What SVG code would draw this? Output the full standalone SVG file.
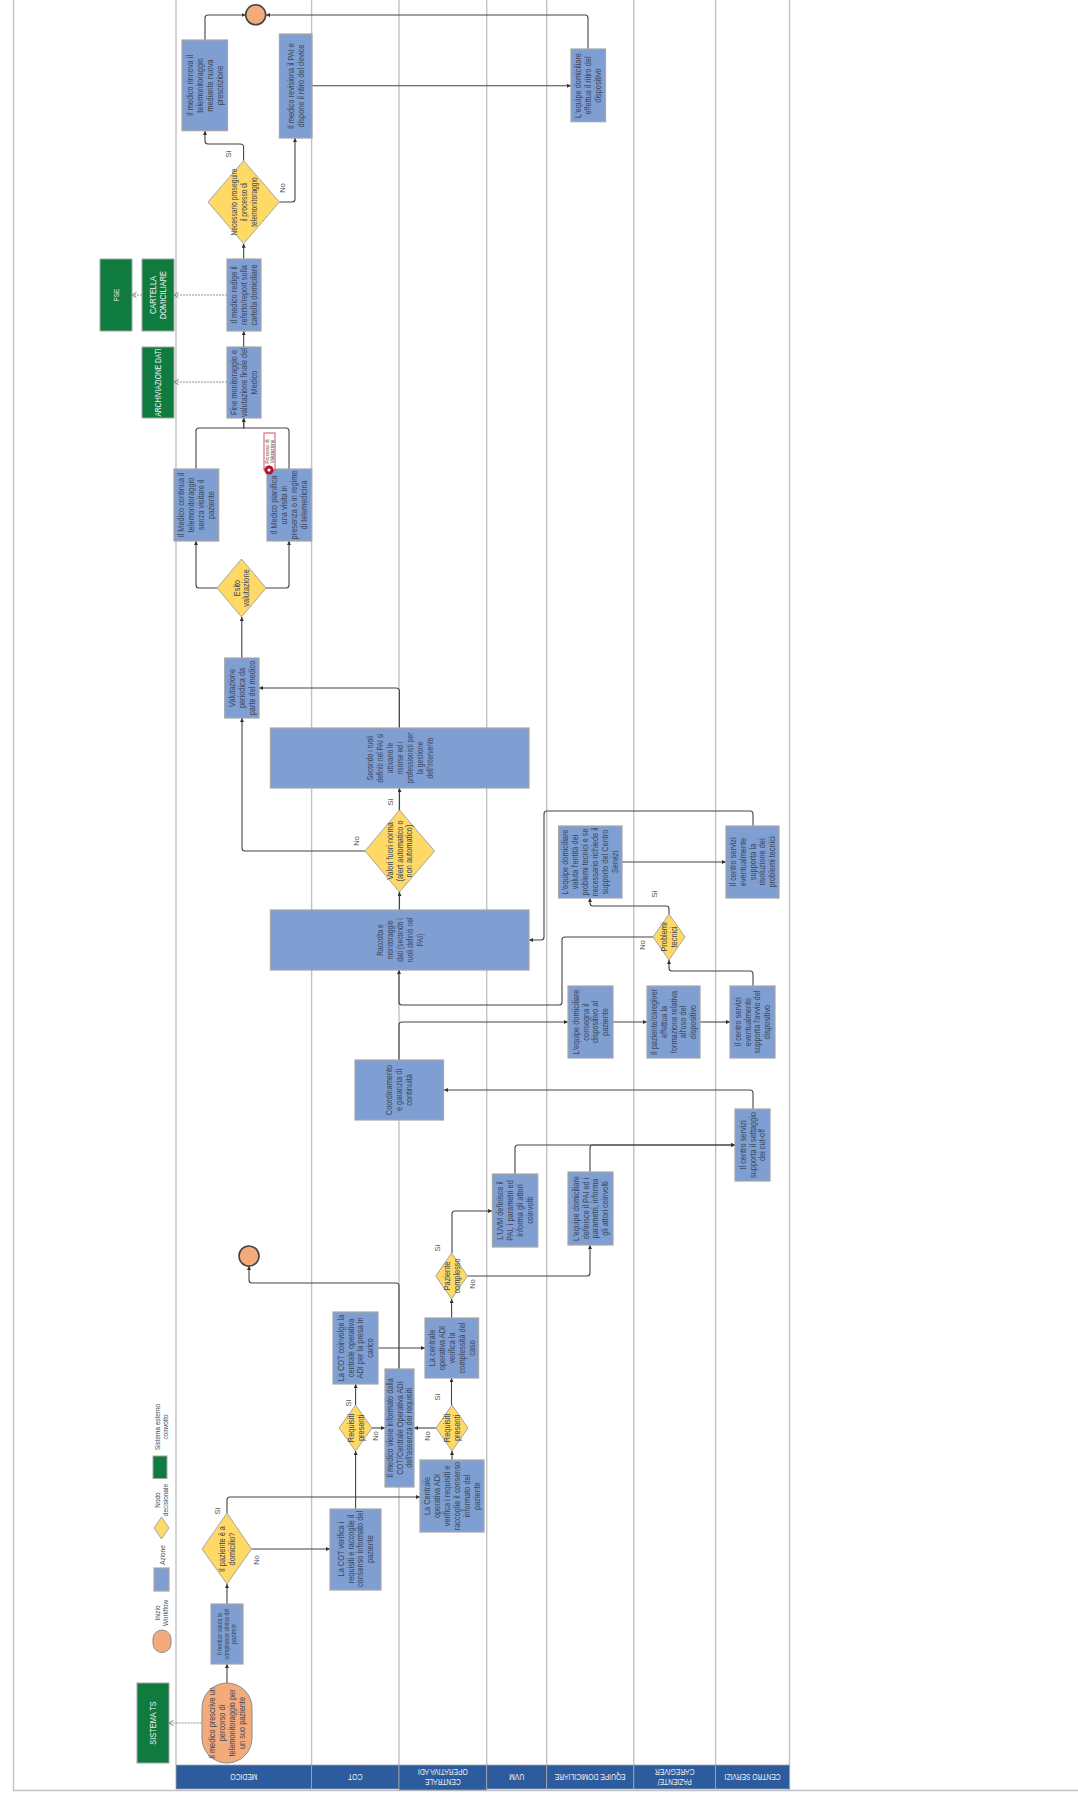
<svg xmlns="http://www.w3.org/2000/svg" width="1078" height="1798" viewBox="0 0 1078 1798">
<style>
text{font-family:"Liberation Sans",Arial,sans-serif;text-anchor:middle}
.t{font-size:9px;fill:#3a4658}
.s{font-size:6.4px;fill:#3a4658}
.m{font-size:8.2px;fill:#3a4658}
.w{font-size:9px;fill:#f2f2f2}
.h{font-size:8.4px;fill:#f2f2f2}
.l{font-size:7.6px;fill:#555}
.a{fill:#7f9fd3;stroke:#a6a6a6;stroke-width:1.2}
.d{fill:#ffd966;stroke:#a6a6a6;stroke-width:1}
.g{fill:#0f7b3e;stroke:#a6a6a6;stroke-width:1}
.o{fill:#f4ab7c;stroke:#8c8c8c;stroke-width:1}
.e{fill:#f4ab7c;stroke:#444;stroke-width:1.6}
.hd{fill:#2c5c9e;stroke:#a6a6a6;stroke-width:.8}
.ln{stroke:#c2c2c8;stroke-width:1.4;fill:none}
.c{fill:none;stroke:#444;stroke-width:1.1;marker-end:url(#ar)}
.x{fill:none;stroke:#666;stroke-width:.7;stroke-dasharray:2 1;marker-end:url(#op)}
</style>
<defs>
<marker id="ar" markerUnits="userSpaceOnUse" markerWidth="5" markerHeight="5" refX="4" refY="2" orient="auto"><path d="M0 0L4 2L0 4z" fill="#333"/></marker>
<marker id="op" markerUnits="userSpaceOnUse" markerWidth="7" markerHeight="7" refX="5" refY="3" orient="auto"><path d="M.5 .3L5 3L.5 5.7" fill="none" stroke="#666" stroke-width=".8"/></marker>
</defs>
<rect width="1078" height="1798" fill="#fff"/>
<g id="frame">
<path class="ln" d="M13.5 0V1790.5H1078"/>
<path class="ln" d="M176 0V1765M311.6 0V1765M399 0V1765M486.7 0V1765M546.7 0V1765M633.8 0V1765M715.6 0V1765M789.5 0V1790"/>
</g>
<g id="headers">
<rect class="hd" x="176" y="1765" width="135.6" height="24"/><text class="h" transform="translate(243.8 1777) rotate(180) scale(.8 1)" y="3">MEDICO</text>
<rect class="hd" x="311.6" y="1765" width="87.4" height="24"/><text class="h" transform="translate(355.3 1777) rotate(180) scale(.8 1)" y="3">COT</text>
<rect class="hd" x="399" y="1765" width="87.7" height="25"/><text class="h" transform="translate(442.8 1777) rotate(180) scale(.8 1)"><tspan x="0" y="-2">CENTRALE</tspan><tspan x="0" y="8">OPERATIVA ADI</tspan></text>
<rect class="hd" x="486.7" y="1765" width="60" height="24"/><text class="h" transform="translate(516.7 1777) rotate(180) scale(.8 1)" y="3">UVM</text>
<rect class="hd" x="546.7" y="1765" width="87.1" height="24"/><text class="h" transform="translate(590.2 1777) rotate(180) scale(.8 1)" y="3">EQUIPE DOMICILIARE</text>
<rect class="hd" x="633.8" y="1765" width="81.8" height="24"/><text class="h" transform="translate(674.7 1777) rotate(180) scale(.8 1)"><tspan x="0" y="-2">PAZIENTE/</tspan><tspan x="0" y="8">CAREGIVER</tspan></text>
<rect class="hd" x="715.6" y="1765" width="73.9" height="24"/><text class="h" transform="translate(752.5 1777) rotate(180) scale(.8 1)" y="3">CENTRO SERVIZI</text>
</g>
<g id="connectors">
<path class="c" d="M227 1683V1664"/>
<path class="c" d="M227 1604V1584"/>
<path class="c" d="M227 1513V1500Q227 1497 230 1497H420"/>
<path class="c" d="M251.5 1549H330"/>
<path class="c" d="M355.6 1509V1451"/>
<path class="c" d="M355.6 1405V1384"/>
<path class="c" d="M372 1428H385"/>
<path class="c" d="M436 1428H414"/>
<path class="c" d="M452 1460V1451"/>
<path class="c" d="M451.5 1405V1378"/>
<path class="c" d="M378 1348H425"/>
<path class="c" d="M399 1369V1286Q399 1283 396 1283H252Q249 1283 249 1280V1266"/>
<path class="c" d="M451.6 1318V1299"/>
<path class="c" d="M452 1253V1214Q452 1211 455 1211H492"/>
<path class="c" d="M467.5 1276H587Q590 1276 590 1273V1245"/>
<path class="c" d="M515 1174V1148Q515 1145 518 1145H735"/>
<path class="c" d="M590 1172V1148Q590 1145 593 1145H735"/>
<path class="c" d="M753 1109V1093Q753 1090 750 1090H444"/>
<path class="c" d="M399 1060V1025Q399 1022 402 1022H568"/>
<path class="c" d="M613 1022H647"/>
<path class="c" d="M700 1022H730"/>
<path class="c" d="M753 986V974Q753 971 750 971H672Q669 971 669 968V960"/>
<path class="c" d="M653 937H565Q562 937 562 940V1002Q562 1005 559 1005H402Q399 1005 399 1002V970"/>
<path class="c" d="M399.5 910V892"/>
<path class="c" d="M399.5 810V788"/>
<path class="c" d="M365 851H245Q242 851 242 848V718"/>
<path class="c" d="M399.4 728V691Q399.4 688 396 688H259"/>
<path class="c" d="M241.8 658V617"/>
<path class="c" d="M622 862H726"/>
<path class="c" d="M753 826V814Q753 811 750 811H547Q544 811 544 814V937Q544 940 541 940H529"/>
<path class="c" d="M669 914V909Q669 906 666 906H593Q590 906 590 903V898"/>
<path class="c" d="M217 588H199Q196 588 196 585V541"/>
<path class="c" d="M266 588H286Q289 588 289 585V541"/>
<path class="c" d="M196 469V431Q196 428 199 428H243.7V418"/>
<path class="c" d="M289 469V431Q289 428 286 428H243.7V418"/>
<path class="c" d="M243.7 347V331"/>
<path class="c" d="M243.7 259V243.7"/>
<path class="c" d="M243.6 160.7V147Q243.6 144 240 144H208Q205 144 205 141V131"/>
<path class="c" d="M279.4 202H292Q295 202 295 199V138"/>
<path class="c" d="M205 40V18Q205 15 208 15H245.5"/>
<path class="c" d="M312 85.7H571"/>
<path class="c" d="M588 49V18Q588 15 585 15H266"/>
<path class="x" d="M201.5 1723H169"/>
<path class="x" d="M227 295H174"/>
<path class="x" d="M142 295H132"/>
<path class="x" d="M227 382H174"/>
</g>
<g id="labels">
<text class="l" transform="translate(217 1511) rotate(-90)" y="3">Si</text>
<text class="l" transform="translate(256 1560) rotate(-90)" y="3">No</text>
<text class="l" transform="translate(347.5 1403) rotate(-90)" y="3">Si</text>
<text class="l" transform="translate(375 1436) rotate(-90)" y="3">No</text>
<text class="l" transform="translate(437 1397) rotate(-90)" y="3">Si</text>
<text class="l" transform="translate(427 1436) rotate(-90)" y="3">No</text>
<text class="l" transform="translate(436.5 1248) rotate(-90)" y="3">Si</text>
<text class="l" transform="translate(472 1284) rotate(-90)" y="3">No</text>
<text class="l" transform="translate(355.7 841) rotate(-90)" y="3">No</text>
<text class="l" transform="translate(390 802) rotate(-90)" y="3">Si</text>
<text class="l" transform="translate(654 894) rotate(-90)" y="3">Si</text>
<text class="l" transform="translate(642 945) rotate(-90)" y="3">No</text>
<text class="l" transform="translate(228.4 154) rotate(-90)" y="3">Si</text>
<text class="l" transform="translate(282 188) rotate(-90)" y="3">No</text>
</g>
<g id="n-sistema-ts"><rect class="g" x="137" y="1683" width="32" height="80"/><text class="w" transform="translate(153 1723) rotate(-90) scale(.82 1)" y="3">SISTEMA TS</text></g>
<g id="n-start"><rect class="o" x="202" y="1683" width="50" height="80" rx="25"/><text class="t" transform="translate(227 1723) rotate(-90) scale(.82 1)"><tspan x="0" y="-12">Il medico prescrive un</tspan><tspan x="0" y="-2">percorso di</tspan><tspan x="0" y="8">telemonitoraggio per</tspan><tspan x="0" y="18">un suo paziente</tspan></text></g>
<g id="n-compliance"><rect class="a" x="211" y="1604" width="32" height="60"/><text class="s" transform="translate(227 1634) rotate(-90) scale(.82 1)"><tspan x="0" y="-5.5">Il medico valuta la</tspan><tspan x="0" y="2">compliance clinica del</tspan><tspan x="0" y="9.5">paziente</tspan></text></g>
<g id="n-domicilio"><path class="d" d="M227 1513L251.5 1549L227 1584L202 1549Z"/><text class="t" transform="translate(227 1549) rotate(-90) scale(.82 1)"><tspan x="0" y="-2">Il paziente è a</tspan><tspan x="0" y="8">domicilio?</tspan></text></g>
<g id="n-cot-verifica"><rect class="a" x="330" y="1509" width="51" height="81"/><text class="t" transform="translate(355.5 1549) rotate(-90) scale(.82 1)"><tspan x="0" y="-12">La COT verifica i</tspan><tspan x="0" y="-2">requisiti e raccoglie il</tspan><tspan x="0" y="8">consenso informato del</tspan><tspan x="0" y="18">paziente</tspan></text></g>
<g id="n-centrale-verifica"><rect class="a" x="420" y="1460" width="64" height="72"/><text class="t" transform="translate(452 1496) rotate(-90) scale(.82 1)"><tspan x="0" y="-22">La Centrale</tspan><tspan x="0" y="-12">operativa ADI</tspan><tspan x="0" y="-2">verifica i requisiti e</tspan><tspan x="0" y="8">raccoglie il consenso</tspan><tspan x="0" y="18">informato del</tspan><tspan x="0" y="28">paziente</tspan></text></g>
<g id="n-req-cot"><path class="d" d="M355.6 1405L372 1428L355.6 1451L339 1428Z"/><text class="t" transform="translate(355.6 1428) rotate(-90) scale(.82 1)"><tspan x="0" y="-2">Requisiti</tspan><tspan x="0" y="8">presenti</tspan></text></g>
<g id="n-req-adi"><path class="d" d="M452 1405L468 1428L452 1451L436 1428Z"/><text class="t" transform="translate(452 1428) rotate(-90) scale(.82 1)"><tspan x="0" y="-2">Requisiti</tspan><tspan x="0" y="8">presenti</tspan></text></g>
<g id="n-informato"><rect class="a" x="385" y="1369" width="29" height="118"/><text class="t" transform="translate(399.5 1428) rotate(-90) scale(.82 1)"><tspan x="0" y="-7">Il medico viene informato dalla</tspan><tspan x="0" y="3">COT/Centrale Operativa ADI</tspan><tspan x="0" y="13">dell'assenza dei requisiti</tspan></text></g>
<g id="n-cot-coinvolge"><rect class="a" x="333" y="1312" width="45" height="72"/><text class="t" transform="translate(355.5 1348) rotate(-90) scale(.82 1)"><tspan x="0" y="-12">La COT coinvolge la</tspan><tspan x="0" y="-2">centrale operativa</tspan><tspan x="0" y="8">ADI per la presa in</tspan><tspan x="0" y="18">carico</tspan></text></g>
<g id="n-complessita"><rect class="a" x="425" y="1318" width="53.6" height="60"/><text class="t" transform="translate(451.8 1348) rotate(-90) scale(.82 1)"><tspan x="0" y="-17">La centrale</tspan><tspan x="0" y="-7">operativa ADI</tspan><tspan x="0" y="3">verifica la</tspan><tspan x="0" y="13">complessità del</tspan><tspan x="0" y="23">caso</tspan></text></g>
<g id="n-complesso"><path class="d" d="M451.6 1253L467.5 1276L451.6 1299L435.7 1276Z"/><text class="t" transform="translate(451.6 1276) rotate(-90) scale(.82 1)"><tspan x="0" y="-2">Paziente</tspan><tspan x="0" y="8">complesso</tspan></text></g>
<g id="n-end1"><circle class="e" cx="249" cy="1256" r="10"/></g>
<g id="n-uvm"><rect class="a" x="492.4" y="1174" width="45.4" height="73"/><text class="t" transform="translate(515 1210.5) rotate(-90) scale(.82 1)"><tspan x="0" y="-12">L'UVM definisce il</tspan><tspan x="0" y="-2">PAI, i parametri ed</tspan><tspan x="0" y="8">informa gli attori</tspan><tspan x="0" y="18">coinvolti</tspan></text></g>
<g id="n-equipe-pai"><rect class="a" x="568" y="1172" width="45" height="73"/><text class="t" transform="translate(590.5 1208.5) rotate(-90) scale(.82 1)"><tspan x="0" y="-12">L'equipe domiciliare</tspan><tspan x="0" y="-2">definisce il PAI ed i</tspan><tspan x="0" y="8">parametri, informa</tspan><tspan x="0" y="18">gli attori coinvolti</tspan></text></g>
<g id="n-cutoff"><rect class="a" x="735" y="1109" width="35" height="72"/><text class="t" transform="translate(752.5 1145) rotate(-90) scale(.82 1)"><tspan x="0" y="-7">Il centro servizi</tspan><tspan x="0" y="3">supporta il settaggio</tspan><tspan x="0" y="13">dei cut-off</tspan></text></g>
<g id="n-coordinamento"><rect class="a" x="355" y="1060" width="88.5" height="60"/><text class="t" transform="translate(399.2 1090) rotate(-90) scale(.82 1)"><tspan x="0" y="-7">Coordinamento</tspan><tspan x="0" y="3">e garanzia di</tspan><tspan x="0" y="13">continuità</tspan></text></g>
<g id="n-consegna"><rect class="a" x="568" y="986" width="45" height="72"/><text class="t" transform="translate(590.5 1022) rotate(-90) scale(.82 1)"><tspan x="0" y="-12">L'equipe domiciliare</tspan><tspan x="0" y="-2">consegna il</tspan><tspan x="0" y="8">dispositivo al</tspan><tspan x="0" y="18">paziente</tspan></text></g>
<g id="n-formazione"><rect class="a" x="647" y="986" width="53" height="72"/><text class="t" transform="translate(673.5 1022) rotate(-90) scale(.82 1)"><tspan x="0" y="-17">Il paziente/caregiver</tspan><tspan x="0" y="-7">effettua la</tspan><tspan x="0" y="3">formazione relativa</tspan><tspan x="0" y="13">all'uso del</tspan><tspan x="0" y="23">dispositivo</tspan></text></g>
<g id="n-avvio"><rect class="a" x="730" y="986" width="45" height="72"/><text class="t" transform="translate(752.5 1022) rotate(-90) scale(.82 1)"><tspan x="0" y="-12">Il centro servizi</tspan><tspan x="0" y="-2">eventualmente</tspan><tspan x="0" y="8">supporta l'avvio del</tspan><tspan x="0" y="18">dispositivo</tspan></text></g>
<g id="n-problemi"><path class="d" d="M669 914L685 937L669 960L653 937Z"/><text class="t" transform="translate(669 937) rotate(-90) scale(.82 1)"><tspan x="0" y="-2">Problemi</tspan><tspan x="0" y="8">tecnici</tspan></text></g>
<g id="n-raccolta"><rect class="a" x="270.4" y="910" width="258.6" height="60"/><text class="m" transform="translate(399.7 940) rotate(-90) scale(.82 1)"><tspan x="0" y="-17">Raccolta e</tspan><tspan x="0" y="-7">monitoraggio</tspan><tspan x="0" y="3">dati (secondo i</tspan><tspan x="0" y="13">ruoli definiti nel</tspan><tspan x="0" y="23">PAI)</tspan></text></g>
<g id="n-valori"><path class="d" d="M399.5 810L434.5 851L399.5 892L365 851Z"/><text class="t" transform="translate(399.5 851) rotate(-90) scale(.82 1)"><tspan x="0" y="-7">Valori fuori norma</tspan><tspan x="0" y="3">(alert automatico o</tspan><tspan x="0" y="13">non automatico)</tspan></text></g>
<g id="n-secondo"><rect class="a" x="270.4" y="728" width="258.6" height="60"/><text class="m" transform="translate(399.7 758) rotate(-90) scale(.82 1)"><tspan x="0" y="-27">Secondo i ruoli</tspan><tspan x="0" y="-17">definiti nel PAI si</tspan><tspan x="0" y="-7">attivano le</tspan><tspan x="0" y="3">risorse ed i</tspan><tspan x="0" y="13">professionisti per</tspan><tspan x="0" y="23">la gestione</tspan><tspan x="0" y="33">dell'intervento</tspan></text></g>
<g id="n-entita"><rect class="a" x="558.6" y="826" width="63.4" height="72"/><text class="t" transform="translate(590.3 862) rotate(-90) scale(.82 1)"><tspan x="0" y="-22">L'equipe domiciliare</tspan><tspan x="0" y="-12">valuta l'entità dei</tspan><tspan x="0" y="-2">problemi tecnici e se</tspan><tspan x="0" y="8">necessario richiede il</tspan><tspan x="0" y="18">supporto del Centro</tspan><tspan x="0" y="28">Servizi</tspan></text></g>
<g id="n-risoluzione"><rect class="a" x="726" y="826" width="53" height="72"/><text class="t" transform="translate(752.5 862) rotate(-90) scale(.82 1)"><tspan x="0" y="-17">Il centro servizi</tspan><tspan x="0" y="-7">eventualmente</tspan><tspan x="0" y="3">supporta la</tspan><tspan x="0" y="13">risoluzione dei</tspan><tspan x="0" y="23">problemi tecnici</tspan></text></g>
<g id="n-valutazione"><rect class="a" x="224.7" y="658" width="34.3" height="60"/><text class="t" transform="translate(241.8 688) rotate(-90) scale(.82 1)"><tspan x="0" y="-7">Valutazione</tspan><tspan x="0" y="3">periodica da</tspan><tspan x="0" y="13">parte del medico</tspan></text></g>
<g id="n-esito"><path class="d" d="M241.5 559L266 588L241.5 617L217 588Z"/><text class="t" transform="translate(241.5 588) rotate(-90) scale(.82 1)"><tspan x="0" y="-2">Esito</tspan><tspan x="0" y="8">valutazione</tspan></text></g>
<g id="n-continua"><rect class="a" x="174" y="469" width="44.7" height="72"/><text class="t" transform="translate(196.3 505) rotate(-90) scale(.82 1)"><tspan x="0" y="-12">Il Medico continua il</tspan><tspan x="0" y="-2">telemonitoraggio</tspan><tspan x="0" y="8">senza visitare il</tspan><tspan x="0" y="18">paziente</tspan></text></g>
<g id="n-pianifica"><rect class="a" x="267" y="469" width="44.7" height="72"/><text class="t" transform="translate(289.3 505) rotate(-90) scale(.82 1)"><tspan x="0" y="-12">Il Medico pianifica</tspan><tspan x="0" y="-2">una visita in</tspan><tspan x="0" y="8">presenza o in regime</tspan><tspan x="0" y="18">di telemedicina</tspan></text></g>
<g id="n-errore"><rect x="264" y="433" width="11" height="37" fill="#fff" stroke="#d9505a" stroke-width="1"/><text font-size="4.6" fill="#444" transform="translate(269.5 451.5) rotate(-90)"><tspan x="0" y="-.5">Processo di</tspan><tspan x="0" y="4.5">Valutazione</tspan></text><circle cx="269" cy="470" r="4.6" fill="#b3162a"/><circle cx="269" cy="470" r="1.6" fill="#fff"/></g>
<g id="n-fine"><rect class="a" x="227" y="347" width="34" height="71"/><text class="t" transform="translate(244 382.5) rotate(-90) scale(.82 1)"><tspan x="0" y="-7">Fine monitoraggio e</tspan><tspan x="0" y="3">valutazione finale del</tspan><tspan x="0" y="13">Medico</tspan></text></g>
<g id="n-redige"><rect class="a" x="227" y="259" width="34" height="72"/><text class="t" transform="translate(244 295) rotate(-90) scale(.82 1)"><tspan x="0" y="-7">Il medico redige il</tspan><tspan x="0" y="3">referto/report sulla</tspan><tspan x="0" y="13">cartella domiciliare</tspan></text></g>
<g id="n-archiviazione"><rect class="g" x="142" y="347" width="32" height="71"/><text class="w" transform="translate(158 382.5) rotate(-90) scale(.74 1)" y="3">ARCHIVIAZIONE DATI</text></g>
<g id="n-cartella"><rect class="g" x="142" y="259" width="32" height="72"/><text class="w" transform="translate(158 295) rotate(-90) scale(.82 1)"><tspan x="0" y="-2">CARTELLA</tspan><tspan x="0" y="8">DOMICILIARE</tspan></text></g>
<g id="n-fse"><rect class="g" x="100" y="259" width="32" height="72"/><text class="s" style="fill:#f2f2f2" transform="translate(116 295) rotate(-90)" y="2.5">FSE</text></g>
<g id="n-necessario"><path class="d" d="M243.6 160.7L279.4 202L243.6 243.7L208 202Z"/><text class="m" transform="translate(243.6 202) rotate(-90) scale(.82 1)"><tspan x="0" y="-7">Necessario proseguire</tspan><tspan x="0" y="3">il processo di</tspan><tspan x="0" y="13">telemonitoraggio</tspan></text></g>
<g id="n-rinnova"><rect class="a" x="182" y="40" width="45.5" height="90.7"/><text class="t" transform="translate(204.7 85.5) rotate(-90) scale(.82 1)"><tspan x="0" y="-12">Il medico rinnova il</tspan><tspan x="0" y="-2">telemonitoraggio</tspan><tspan x="0" y="8">mediante nuova</tspan><tspan x="0" y="18">prescrizione</tspan></text></g>
<g id="n-revisiona"><rect class="a" x="279.4" y="34" width="32.6" height="104"/><text class="t" transform="translate(295.7 86) rotate(-90) scale(.82 1)"><tspan x="0" y="-2">Il medico revisiona il PAI e</tspan><tspan x="0" y="8">dispone il ritiro del device</tspan></text></g>
<g id="n-ritiro"><rect class="a" x="571" y="49" width="34.5" height="72.7"/><text class="t" transform="translate(588.2 85.5) rotate(-90) scale(.82 1)"><tspan x="0" y="-7">L'equipe domiciliare</tspan><tspan x="0" y="3">effettua il ritiro del</tspan><tspan x="0" y="13">dispositivo</tspan></text></g>
<g id="n-end2"><circle class="e" cx="255.7" cy="14.8" r="10"/></g>
<g id="legend">
<rect class="o" x="153" y="1630" width="18" height="22.5" rx="9"/><text class="s" transform="translate(162 1613) rotate(-90)"><tspan x="0" y="-2">Inizio</tspan><tspan x="0" y="6">Workflow</tspan></text>
<rect class="a" x="154" y="1568" width="15" height="23"/><text class="s" transform="translate(162 1555) rotate(-90)" y="2.5">Azione</text>
<path class="d" d="M161.5 1517L169 1528L161.5 1539L154 1528Z"/><text class="s" transform="translate(162 1500) rotate(-90)"><tspan x="0" y="-2">Nodo</tspan><tspan x="0" y="6">decisionale</tspan></text>
<rect class="g" x="153" y="1456" width="14" height="22.5"/><text class="s" transform="translate(162 1427) rotate(-90)"><tspan x="0" y="-2">Sistema esterno</tspan><tspan x="0" y="6">coinvolto</tspan></text>
</g>
</svg>
